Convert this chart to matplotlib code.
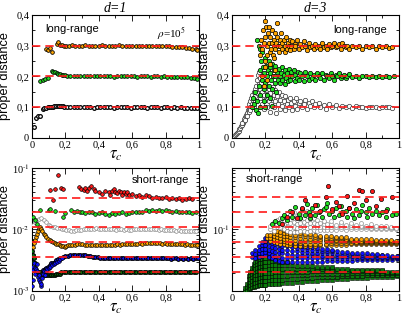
import math
import matplotlib
matplotlib.use('Agg')
import matplotlib.pyplot as plt
from matplotlib.ticker import MultipleLocator, FuncFormatter, LogLocator, NullFormatter

plt.rcParams['mathtext.fontset'] = 'stix'
plt.rcParams['font.family'] = 'Liberation Sans'

# ---- d=1, long-range (tau_c, proper distance) ----
tl_black = [(0.014, 0.037), (0.024, 0.064), (0.034, 0.072), (0.046, 0.07), (0.064, 0.093), (0.074, 0.098),
            (0.084, 0.099), (0.094, 0.1), (0.104, 0.101), (0.114, 0.101), (0.124, 0.102), (0.134, 0.103),
            (0.144, 0.104), (0.154, 0.105), (0.164, 0.105), (0.174, 0.104), (0.184, 0.103), (0.194, 0.102),
            (0.21, 0.102), (0.23, 0.101), (0.25, 0.1), (0.27, 0.101), (0.29, 0.1), (0.31, 0.1), (0.33, 0.101),
            (0.35, 0.1), (0.37, 0.099), (0.39, 0.1), (0.41, 0.1), (0.43, 0.101), (0.45, 0.1), (0.47, 0.1),
            (0.49, 0.099), (0.51, 0.1), (0.53, 0.101), (0.55, 0.1), (0.57, 0.1), (0.59, 0.099), (0.61, 0.1),
            (0.63, 0.1), (0.65, 0.101), (0.67, 0.1), (0.69, 0.099), (0.71, 0.1), (0.73, 0.1), (0.75, 0.1),
            (0.77, 0.099), (0.79, 0.1), (0.81, 0.1), (0.83, 0.099), (0.85, 0.1), (0.87, 0.099), (0.89, 0.1),
            (0.91, 0.099), (0.93, 0.099), (0.95, 0.099), (0.97, 0.098), (0.99, 0.098)]
tl_green = [(0.046, 0.186), (0.066, 0.19), (0.08, 0.193), (0.096, 0.195), (0.118, 0.219), (0.128, 0.216),
            (0.138, 0.213), (0.148, 0.211), (0.158, 0.209), (0.168, 0.207), (0.178, 0.206), (0.188, 0.205),
            (0.198, 0.204), (0.21, 0.203), (0.23, 0.202), (0.25, 0.201), (0.27, 0.2), (0.29, 0.201), (0.31, 0.2),
            (0.33, 0.2), (0.35, 0.201), (0.37, 0.2), (0.39, 0.2), (0.41, 0.2), (0.43, 0.201), (0.45, 0.2),
            (0.47, 0.2), (0.49, 0.199), (0.51, 0.2), (0.53, 0.2), (0.55, 0.201), (0.57, 0.2), (0.59, 0.2),
            (0.61, 0.2), (0.63, 0.199), (0.65, 0.2), (0.67, 0.2), (0.69, 0.2), (0.71, 0.199), (0.73, 0.2),
            (0.75, 0.2), (0.77, 0.199), (0.79, 0.2), (0.81, 0.199), (0.83, 0.199), (0.85, 0.198), (0.87, 0.198),
            (0.89, 0.198), (0.91, 0.197), (0.93, 0.197), (0.95, 0.196), (0.97, 0.195), (0.99, 0.193)]
tl_orange = [(0.086, 0.29), (0.098, 0.287), (0.108, 0.292), (0.12, 0.279), (0.148, 0.305), (0.156, 0.312),
             (0.166, 0.304), (0.178, 0.301), (0.19, 0.3), (0.205, 0.299), (0.22, 0.3), (0.24, 0.301), (0.26, 0.3),
             (0.28, 0.299), (0.30, 0.3), (0.32, 0.301), (0.34, 0.3), (0.36, 0.299), (0.38, 0.3), (0.40, 0.3),
             (0.42, 0.301), (0.44, 0.3), (0.46, 0.299), (0.48, 0.3), (0.50, 0.3), (0.52, 0.301), (0.54, 0.3),
             (0.56, 0.3), (0.58, 0.299), (0.60, 0.3), (0.62, 0.3), (0.64, 0.3), (0.66, 0.299), (0.68, 0.3),
             (0.70, 0.299), (0.72, 0.3), (0.74, 0.299), (0.76, 0.299), (0.78, 0.299), (0.80, 0.298), (0.82, 0.298),
             (0.84, 0.297), (0.86, 0.297), (0.88, 0.296), (0.90, 0.295), (0.92, 0.294), (0.94, 0.292),
             (0.96, 0.29), (0.98, 0.288), (0.99, 0.286)]
tl_levels = [0.1, 0.2, 0.3]

# ---- d=3, long-range ----
tr_white = [(0.02, 0.01), (0.025, 0.013), (0.03, 0.016), (0.035, 0.02), (0.04, 0.024), (0.045, 0.028),
            (0.05, 0.033), (0.055, 0.038), (0.06, 0.043), (0.065, 0.05), (0.07, 0.055), (0.075, 0.062),
            (0.08, 0.068), (0.085, 0.075), (0.09, 0.082), (0.095, 0.09), (0.1, 0.095), (0.06, 0.05), (0.07, 0.062),
            (0.08, 0.06), (0.09, 0.072), (0.1, 0.085), (0.1, 0.11), (0.105, 0.1), (0.11, 0.12), (0.11, 0.09),
            (0.115, 0.13), (0.12, 0.11), (0.12, 0.14), (0.125, 0.125), (0.13, 0.15), (0.13, 0.1), (0.135, 0.135),
            (0.14, 0.16), (0.14, 0.12), (0.145, 0.17), (0.15, 0.145), (0.15, 0.19), (0.155, 0.205), (0.16, 0.215),
            (0.16, 0.175), (0.165, 0.16), (0.17, 0.195), (0.17, 0.13), (0.175, 0.18), (0.18, 0.15), (0.18, 0.11),
            (0.185, 0.165), (0.19, 0.14), (0.19, 0.095), (0.2, 0.17), (0.2, 0.125), (0.205, 0.155), (0.21, 0.1),
            (0.21, 0.14), (0.22, 0.16), (0.22, 0.12), (0.225, 0.085), (0.23, 0.145), (0.235, 0.11), (0.24, 0.13),
            (0.245, 0.165), (0.25, 0.1), (0.25, 0.14), (0.26, 0.12), (0.26, 0.155), (0.265, 0.08), (0.27, 0.135),
            (0.275, 0.11), (0.28, 0.15), (0.285, 0.095), (0.29, 0.125), (0.3, 0.14), (0.3, 0.105), (0.31, 0.12),
            (0.315, 0.09), (0.32, 0.135), (0.33, 0.11), (0.335, 0.125), (0.34, 0.1), (0.35, 0.13), (0.355, 0.115),
            (0.36, 0.09), (0.37, 0.12), (0.38, 0.105), (0.385, 0.13), (0.39, 0.095), (0.4, 0.115), (0.41, 0.12),
            (0.42, 0.1), (0.43, 0.11), (0.44, 0.125), (0.45, 0.095), (0.46, 0.115), (0.47, 0.105), (0.48, 0.12),
            (0.49, 0.1), (0.5, 0.11), (0.52, 0.115), (0.53, 0.1), (0.55, 0.108), (0.56, 0.095), (0.58, 0.112),
            (0.6, 0.1), (0.62, 0.107), (0.64, 0.097), (0.66, 0.105), (0.68, 0.1), (0.7, 0.104), (0.72, 0.098),
            (0.74, 0.103), (0.76, 0.1), (0.78, 0.102), (0.8, 0.099), (0.82, 0.102), (0.84, 0.1), (0.86, 0.101),
            (0.88, 0.099), (0.9, 0.101), (0.92, 0.1), (0.94, 0.1), (0.96, 0.099)]
tr_green = [(0.12, 0.1), (0.125, 0.13), (0.13, 0.11), (0.14, 0.15), (0.145, 0.09), (0.15, 0.32), (0.15, 0.12),
            (0.155, 0.08), (0.16, 0.3), (0.16, 0.17), (0.165, 0.22), (0.17, 0.29), (0.17, 0.14), (0.17, 0.1),
            (0.175, 0.25), (0.18, 0.28), (0.18, 0.19), (0.185, 0.23), (0.19, 0.16), (0.19, 0.21), (0.19, 0.12),
            (0.2, 0.26), (0.2, 0.18), (0.2, 0.1), (0.205, 0.235), (0.21, 0.2), (0.21, 0.14), (0.215, 0.22),
            (0.22, 0.25), (0.22, 0.17), (0.225, 0.21), (0.23, 0.23), (0.23, 0.13), (0.235, 0.19), (0.24, 0.24),
            (0.24, 0.16), (0.24, 0.105), (0.245, 0.2), (0.25, 0.22), (0.255, 0.18), (0.26, 0.235), (0.26, 0.2),
            (0.265, 0.15), (0.27, 0.215), (0.275, 0.19), (0.28, 0.225), (0.285, 0.2), (0.29, 0.18), (0.295, 0.21),
            (0.3, 0.23), (0.3, 0.19), (0.31, 0.205), (0.315, 0.175), (0.32, 0.22), (0.325, 0.195), (0.33, 0.21),
            (0.335, 0.185), (0.34, 0.225), (0.345, 0.2), (0.35, 0.19), (0.355, 0.215), (0.36, 0.2), (0.37, 0.22),
            (0.375, 0.185), (0.38, 0.205), (0.39, 0.195), (0.395, 0.215), (0.4, 0.19), (0.41, 0.21), (0.42, 0.2),
            (0.43, 0.185), (0.44, 0.215), (0.45, 0.2), (0.46, 0.19), (0.47, 0.21), (0.48, 0.195), (0.49, 0.205),
            (0.5, 0.19), (0.51, 0.21), (0.52, 0.2), (0.53, 0.195), (0.54, 0.21), (0.55, 0.19), (0.56, 0.205),
            (0.57, 0.2), (0.58, 0.195), (0.59, 0.21), (0.6, 0.2), (0.61, 0.19), (0.62, 0.205), (0.63, 0.2),
            (0.64, 0.21), (0.65, 0.195), (0.66, 0.2), (0.67, 0.205), (0.68, 0.195), (0.69, 0.2), (0.7, 0.207),
            (0.72, 0.198), (0.74, 0.203), (0.76, 0.196), (0.78, 0.202), (0.8, 0.2), (0.82, 0.197), (0.84, 0.203),
            (0.86, 0.199), (0.88, 0.201), (0.9, 0.198), (0.92, 0.2), (0.94, 0.199), (0.97, 0.2)]
tr_orange = [(0.17, 0.27), (0.175, 0.32), (0.18, 0.29), (0.185, 0.35), (0.19, 0.31), (0.195, 0.25), (0.2, 0.38),
             (0.2, 0.33), (0.205, 0.36), (0.21, 0.3), (0.21, 0.27), (0.215, 0.34), (0.22, 0.36), (0.22, 0.31),
             (0.225, 0.28), (0.23, 0.33), (0.235, 0.29), (0.24, 0.35), (0.24, 0.31), (0.245, 0.27), (0.25, 0.32),
             (0.25, 0.3), (0.255, 0.34), (0.26, 0.29), (0.265, 0.31), (0.27, 0.375), (0.27, 0.33), (0.275, 0.3),
             (0.28, 0.28), (0.285, 0.32), (0.29, 0.3), (0.295, 0.34), (0.3, 0.31), (0.3, 0.29), (0.31, 0.32),
             (0.315, 0.28), (0.32, 0.3), (0.325, 0.33), (0.33, 0.29), (0.335, 0.31), (0.34, 0.3), (0.345, 0.32),
             (0.35, 0.285), (0.355, 0.3), (0.36, 0.315), (0.37, 0.29), (0.375, 0.305), (0.38, 0.3), (0.39, 0.32),
             (0.4, 0.29), (0.41, 0.305), (0.42, 0.295), (0.43, 0.315), (0.44, 0.3), (0.45, 0.285), (0.46, 0.31),
             (0.47, 0.295), (0.48, 0.3), (0.49, 0.29), (0.5, 0.305), (0.51, 0.295), (0.52, 0.3), (0.53, 0.29),
             (0.54, 0.31), (0.55, 0.295), (0.56, 0.3), (0.57, 0.29), (0.58, 0.305), (0.59, 0.295), (0.6, 0.3),
             (0.61, 0.31), (0.62, 0.295), (0.63, 0.3), (0.64, 0.305), (0.65, 0.29), (0.66, 0.31), (0.67, 0.3),
             (0.68, 0.295), (0.69, 0.3), (0.7, 0.29), (0.72, 0.3), (0.74, 0.295), (0.76, 0.3), (0.78, 0.29),
             (0.8, 0.3), (0.82, 0.295), (0.84, 0.3), (0.86, 0.29), (0.88, 0.298), (0.9, 0.295), (0.92, 0.3),
             (0.94, 0.293), (0.96, 0.296), (0.18, 0.2), (0.19, 0.17), (0.2, 0.23), (0.21, 0.19), (0.23, 0.24),
             (0.25, 0.26), (0.26, 0.22)]
tr_levels = [0.1, 0.2, 0.3]

# ---- d=1, short-range (log axis) ----
bl_red = [(0.106, 0.0435), (0.126, 0.0306), (0.136, 0.046), (0.156, 0.078), (0.176, 0.048), (0.186, 0.045),
          (0.28, 0.049), (0.296, 0.046), (0.31, 0.044), (0.316, 0.047), (0.33, 0.043), (0.34, 0.048),
          (0.356, 0.051), (0.37, 0.045), (0.38, 0.042), (0.40, 0.041), (0.42, 0.038), (0.44, 0.042), (0.46, 0.04),
          (0.47, 0.037), (0.48, 0.043), (0.49, 0.045), (0.50, 0.041), (0.51, 0.039), (0.52, 0.043), (0.53, 0.04),
          (0.54, 0.037), (0.55, 0.041), (0.56, 0.038), (0.57, 0.04), (0.58, 0.036), (0.6, 0.038), (0.62, 0.035),
          (0.64, 0.037), (0.66, 0.034), (0.68, 0.036), (0.7, 0.035), (0.72, 0.033), (0.74, 0.034), (0.76, 0.033),
          (0.78, 0.032), (0.8, 0.034), (0.82, 0.031), (0.84, 0.032), (0.86, 0.031), (0.88, 0.032), (0.9, 0.03),
          (0.92, 0.031), (0.94, 0.032), (0.96, 0.031)]
bl_green = [(0.006, 0.016), (0.02, 0.014), (0.03, 0.0125), (0.046, 0.0206), (0.1, 0.0205), (0.106, 0.0212),
            (0.136, 0.0198), (0.186, 0.016), (0.2, 0.0185), (0.236, 0.0206), (0.25, 0.019), (0.27, 0.02),
            (0.286, 0.0194), (0.3, 0.019), (0.32, 0.0185), (0.34, 0.019), (0.36, 0.0195), (0.38, 0.018),
            (0.40, 0.0185), (0.42, 0.019), (0.44, 0.018), (0.46, 0.0175), (0.48, 0.0185), (0.5, 0.018),
            (0.52, 0.0185), (0.54, 0.019), (0.56, 0.018), (0.58, 0.0185), (0.6, 0.019), (0.62, 0.0195),
            (0.64, 0.019), (0.66, 0.0195), (0.68, 0.0205), (0.70, 0.02), (0.72, 0.021), (0.74, 0.02),
            (0.76, 0.0205), (0.78, 0.02), (0.8, 0.0205), (0.82, 0.02), (0.84, 0.0195), (0.86, 0.02),
            (0.88, 0.0195), (0.9, 0.019), (0.92, 0.0195), (0.94, 0.019), (0.96, 0.0185), (0.98, 0.019)]
bl_white = [(0.006, 0.0117), (0.016, 0.013), (0.026, 0.0142), (0.04, 0.015), (0.056, 0.0155), (0.07, 0.0145),
            (0.086, 0.0133), (0.1, 0.012), (0.11, 0.0115), (0.126, 0.011), (0.14, 0.0108), (0.15, 0.0107),
            (0.166, 0.0106), (0.18, 0.0102), (0.19, 0.01), (0.206, 0.0098), (0.22, 0.0097), (0.235, 0.0095),
            (0.25, 0.0096), (0.265, 0.0098), (0.28, 0.0097), (0.295, 0.0099), (0.31, 0.01), (0.325, 0.0102),
            (0.34, 0.0101), (0.355, 0.0103), (0.37, 0.0102), (0.385, 0.0104), (0.4, 0.0102), (0.415, 0.0101),
            (0.43, 0.0103), (0.445, 0.0101), (0.46, 0.0102), (0.475, 0.01), (0.49, 0.0101), (0.505, 0.0099),
            (0.52, 0.01), (0.535, 0.0101), (0.55, 0.0099), (0.565, 0.01), (0.58, 0.0098), (0.595, 0.0099),
            (0.61, 0.0101), (0.625, 0.01), (0.64, 0.0102), (0.655, 0.0101), (0.67, 0.0103), (0.685, 0.0102),
            (0.7, 0.0101), (0.715, 0.01), (0.73, 0.0102), (0.745, 0.0101), (0.76, 0.0099), (0.775, 0.01),
            (0.79, 0.0098), (0.805, 0.0099), (0.82, 0.0097), (0.835, 0.0098), (0.85, 0.0097), (0.865, 0.0096),
            (0.88, 0.0097), (0.895, 0.0095), (0.91, 0.0096), (0.925, 0.0094), (0.94, 0.0095), (0.955, 0.0094),
            (0.97, 0.0093), (0.985, 0.0094)]
bl_orange = [(0.004, 0.0052), (0.01, 0.006), (0.016, 0.0067), (0.022, 0.0076), (0.028, 0.0085), (0.034, 0.0095),
             (0.042, 0.0105), (0.05, 0.011), (0.056, 0.0103), (0.062, 0.0094), (0.07, 0.0086), (0.076, 0.0081),
             (0.086, 0.0076), (0.096, 0.0071), (0.106, 0.0068), (0.116, 0.0065), (0.126, 0.0062), (0.136, 0.006),
             (0.146, 0.0058), (0.156, 0.0057), (0.166, 0.0056), (0.176, 0.0054), (0.186, 0.0053), (0.196, 0.0052),
             (0.206, 0.0053), (0.216, 0.0055), (0.226, 0.0056), (0.24, 0.0055), (0.255, 0.0056), (0.27, 0.0058),
             (0.286, 0.0059), (0.3, 0.0057), (0.315, 0.0056), (0.33, 0.0055), (0.345, 0.0056), (0.36, 0.0055),
             (0.375, 0.0056), (0.39, 0.0055), (0.405, 0.0056), (0.42, 0.0055), (0.435, 0.0056), (0.45, 0.0055),
             (0.465, 0.0056), (0.48, 0.0055), (0.495, 0.0056), (0.51, 0.0057), (0.525, 0.0056), (0.54, 0.0057),
             (0.555, 0.0058), (0.57, 0.0057), (0.585, 0.0058), (0.6, 0.0059), (0.615, 0.0058), (0.63, 0.0059),
             (0.645, 0.006), (0.66, 0.0059), (0.675, 0.006), (0.69, 0.0061), (0.705, 0.006), (0.72, 0.0061),
             (0.735, 0.006), (0.75, 0.0061), (0.765, 0.006), (0.78, 0.0059), (0.795, 0.006), (0.81, 0.0059),
             (0.825, 0.0058), (0.84, 0.0059), (0.855, 0.0058), (0.87, 0.0057), (0.885, 0.0058), (0.9, 0.0057),
             (0.915, 0.0056), (0.93, 0.0057), (0.945, 0.0056), (0.96, 0.0055), (0.975, 0.0056), (0.99, 0.0055)]
bl_blue = [(0.002, 0.0012), (0.003, 0.0025), (0.006, 0.0015), (0.008, 0.0022), (0.012, 0.0028), (0.016, 0.0024),
           (0.02, 0.0019), (0.024, 0.0023), (0.028, 0.0027), (0.032, 0.0021), (0.036, 0.0017), (0.04, 0.0015),
           (0.044, 0.0018), (0.048, 0.0014), (0.052, 0.0012), (0.056, 0.0013), (0.06, 0.0016), (0.066, 0.0019),
           (0.072, 0.0021), (0.078, 0.0018), (0.084, 0.0021), (0.09, 0.0023), (0.1, 0.0024), (0.11, 0.0025),
           (0.12, 0.0026), (0.13, 0.0027), (0.14, 0.0028), (0.15, 0.003), (0.16, 0.0031), (0.17, 0.0033),
           (0.18, 0.0035)]
bl_black = [(0.066, 0.0022), (0.076, 0.0023), (0.086, 0.0024), (0.096, 0.0025), (0.106, 0.0026), (0.116, 0.0028),
            (0.126, 0.0029), (0.136, 0.003), (0.146, 0.0032), (0.156, 0.0033), (0.166, 0.0034), (0.176, 0.0035),
            (0.186, 0.0036), (0.2, 0.0037), (0.215, 0.0037), (0.23, 0.0038), (0.245, 0.0038), (0.26, 0.0038),
            (0.275, 0.0039), (0.29, 0.0038), (0.305, 0.0038), (0.32, 0.0038), (0.335, 0.0037), (0.35, 0.0037),
            (0.365, 0.0036), (0.38, 0.0036), (0.395, 0.0036), (0.41, 0.0035), (0.425, 0.0035), (0.44, 0.0035),
            (0.455, 0.0034), (0.47, 0.0035), (0.485, 0.0034), (0.5, 0.0034), (0.515, 0.0035), (0.53, 0.0034),
            (0.545, 0.0034), (0.56, 0.0035), (0.575, 0.0034), (0.59, 0.0034), (0.605, 0.0035), (0.62, 0.0035),
            (0.635, 0.0034), (0.65, 0.0035), (0.665, 0.0035), (0.68, 0.0034), (0.695, 0.0035), (0.71, 0.0035),
            (0.725, 0.0034), (0.74, 0.0034), (0.755, 0.0035), (0.77, 0.0034), (0.785, 0.0034), (0.8, 0.0034),
            (0.815, 0.0034), (0.83, 0.0033), (0.845, 0.0034), (0.86, 0.0034), (0.875, 0.0033), (0.89, 0.0034),
            (0.905, 0.0033), (0.92, 0.0034), (0.935, 0.0033), (0.95, 0.0034), (0.965, 0.0033), (0.98, 0.0034),
            (0.995, 0.0034)]
bl_dkgreen = [(0.002, 0.0045), (0.004, 0.0038), (0.006, 0.0063), (0.008, 0.003), (0.012, 0.0035),
              (0.016, 0.0028), (0.02, 0.0024), (0.026, 0.0021), (0.036, 0.002), (0.046, 0.002), (0.056, 0.0019),
              (0.066, 0.0018), (0.076, 0.0018), (0.086, 0.0018), (0.096, 0.0018), (0.106, 0.0018),
              (0.116, 0.0018), (0.126, 0.0018), (0.136, 0.0018), (0.146, 0.0019), (0.156, 0.0019),
              (0.166, 0.0019), (0.176, 0.002), (0.19, 0.002), (0.205, 0.002), (0.22, 0.002), (0.235, 0.002),
              (0.25, 0.002), (0.265, 0.002), (0.28, 0.002), (0.295, 0.002), (0.31, 0.002), (0.325, 0.002),
              (0.34, 0.002), (0.355, 0.002), (0.37, 0.002), (0.385, 0.002), (0.4, 0.002), (0.415, 0.002),
              (0.43, 0.002), (0.445, 0.002), (0.46, 0.002), (0.475, 0.002), (0.49, 0.002), (0.505, 0.002),
              (0.52, 0.002), (0.535, 0.002), (0.55, 0.002), (0.565, 0.002), (0.58, 0.002), (0.595, 0.002),
              (0.61, 0.002), (0.625, 0.002), (0.64, 0.002), (0.655, 0.002), (0.67, 0.002), (0.685, 0.002),
              (0.7, 0.002), (0.715, 0.002), (0.73, 0.002), (0.745, 0.002), (0.76, 0.002), (0.775, 0.002),
              (0.79, 0.002), (0.805, 0.002), (0.82, 0.002), (0.835, 0.002), (0.85, 0.002), (0.865, 0.002),
              (0.88, 0.002), (0.895, 0.002), (0.91, 0.002), (0.925, 0.002), (0.94, 0.002), (0.955, 0.002),
              (0.97, 0.002), (0.985, 0.002)]
bl_levels = [0.00201, 0.00352, 0.00616, 0.0108, 0.0189, 0.033]

# ---- d=3, short-range (log axis); columns: tau_c -> proper distances ----
br_dkgreen = {0.08: [0.0102, 0.0112], 0.09: [0.0105, 0.0118, 0.0132],
              0.10: [0.0108, 0.0122, 0.0138, 0.0158, 0.0178],
              0.11: [0.0112, 0.0126, 0.0142, 0.016, 0.0182, 0.0205],
              0.12: [0.0115, 0.013, 0.0148, 0.0168, 0.019, 0.0215, 0.024],
              0.13: [0.0118, 0.0135, 0.0152, 0.0172, 0.0195, 0.022, 0.025, 0.028],
              0.14: [0.012, 0.0138, 0.0158, 0.018, 0.0205, 0.0232, 0.0262, 0.03],
              0.15: [0.0122, 0.014, 0.016, 0.0182, 0.021, 0.024, 0.0272, 0.031, 0.035],
              0.16: [0.0124, 0.0143, 0.0163, 0.0186, 0.0212, 0.0242, 0.0278, 0.032, 0.037, 0.041],
              0.17: [0.0125, 0.0145, 0.0166, 0.019, 0.0218, 0.025, 0.0285, 0.033, 0.038, 0.044],
              0.18: [0.0126, 0.0146, 0.0168, 0.0193, 0.022, 0.0252, 0.029, 0.0335, 0.039, 0.046, 0.052],
              0.19: [0.0127, 0.0148, 0.017, 0.0195, 0.0224, 0.0258, 0.0296, 0.034, 0.04, 0.047, 0.056],
              0.20: [0.0128, 0.0148, 0.017, 0.0196, 0.0226, 0.026, 0.03, 0.035, 0.041, 0.049, 0.058],
              0.22: [0.013, 0.015, 0.0172, 0.0198, 0.0228, 0.0262, 0.0302, 0.035, 0.041],
              0.24: [0.0131, 0.0151, 0.0174, 0.02, 0.023, 0.0264, 0.0305, 0.035],
              0.26: [0.0132, 0.0152, 0.0175, 0.0201, 0.0232, 0.0266, 0.0305, 0.034],
              0.28: [0.0133, 0.0153, 0.0176, 0.0202, 0.0232, 0.0266, 0.03],
              0.30: [0.0134, 0.0154, 0.0177, 0.0203, 0.0233, 0.0266, 0.0298],
              0.33: [0.0136, 0.0156, 0.0178, 0.0204, 0.0233, 0.0264, 0.0295],
              0.36: [0.0138, 0.0158, 0.018, 0.0205, 0.0233, 0.0262],
              0.39: [0.014, 0.016, 0.0182, 0.0206, 0.0232, 0.026],
              0.42: [0.0142, 0.0162, 0.0184, 0.0207, 0.0232, 0.0258],
              0.45: [0.0144, 0.0164, 0.0185, 0.0208, 0.0232, 0.0255],
              0.48: [0.0146, 0.0166, 0.0187, 0.0209, 0.0232, 0.0252],
              0.51: [0.0148, 0.0168, 0.0188, 0.021, 0.0231, 0.025],
              0.54: [0.015, 0.017, 0.019, 0.021, 0.023, 0.0248],
              0.57: [0.0152, 0.0171, 0.019, 0.0211, 0.0229, 0.0245],
              0.60: [0.0154, 0.0172, 0.0191, 0.0211, 0.0228, 0.0243],
              0.63: [0.0156, 0.0173, 0.0192, 0.0211, 0.0227],
              0.66: [0.0158, 0.0175, 0.0193, 0.0211, 0.0226],
              0.69: [0.016, 0.0176, 0.0193, 0.021, 0.0225],
              0.72: [0.0161, 0.0177, 0.0194, 0.021, 0.0224],
              0.75: [0.0163, 0.0178, 0.0194, 0.021, 0.0223],
              0.78: [0.0164, 0.0179, 0.0195, 0.021, 0.0222],
              0.81: [0.0166, 0.018, 0.0195, 0.0209, 0.0221],
              0.84: [0.0167, 0.0181, 0.0195, 0.0209, 0.022],
              0.87: [0.0168, 0.0182, 0.0196, 0.0209, 0.022],
              0.90: [0.017, 0.0183, 0.0196, 0.0209, 0.0219],
              0.93: [0.0171, 0.0184, 0.0196, 0.0208],
              0.96: [0.0172, 0.0185, 0.0197, 0.0208],
              0.99: [0.0174, 0.0186, 0.0197, 0.0207]}
br_blue = {0.12: [0.036, 0.041], 0.14: [0.035, 0.04, 0.046], 0.16: [0.036, 0.041, 0.047, 0.054],
           0.18: [0.037, 0.042, 0.048, 0.055, 0.063], 0.20: [0.038, 0.043, 0.049, 0.056, 0.064, 0.072],
           0.22: [0.036, 0.041, 0.047, 0.054, 0.062, 0.07, 0.077],
           0.24: [0.034, 0.039, 0.045, 0.052, 0.06, 0.068, 0.075],
           0.26: [0.032, 0.037, 0.043, 0.05, 0.058, 0.066, 0.072],
           0.28: [0.031, 0.036, 0.042, 0.049, 0.056, 0.064, 0.07],
           0.30: [0.03, 0.035, 0.041, 0.047, 0.054, 0.062], 0.33: [0.03, 0.035, 0.04, 0.046, 0.053, 0.06],
           0.36: [0.03, 0.034, 0.039, 0.045, 0.052, 0.058], 0.39: [0.03, 0.034, 0.039, 0.044, 0.05, 0.056],
           0.42: [0.03, 0.034, 0.038, 0.043, 0.049, 0.054], 0.45: [0.03, 0.034, 0.038, 0.043, 0.048, 0.052],
           0.48: [0.03, 0.034, 0.038, 0.042, 0.047, 0.051], 0.51: [0.03, 0.034, 0.038, 0.042, 0.046, 0.05],
           0.54: [0.03, 0.034, 0.037, 0.041, 0.045, 0.049], 0.57: [0.031, 0.034, 0.037, 0.041, 0.045, 0.048],
           0.60: [0.031, 0.034, 0.037, 0.041, 0.044, 0.047], 0.63: [0.031, 0.034, 0.037, 0.04, 0.044],
           0.66: [0.031, 0.034, 0.037, 0.04, 0.043], 0.69: [0.031, 0.034, 0.037, 0.04, 0.043],
           0.72: [0.031, 0.034, 0.037, 0.04, 0.042], 0.75: [0.032, 0.034, 0.037, 0.039, 0.042],
           0.78: [0.032, 0.034, 0.036, 0.039, 0.041], 0.81: [0.032, 0.034, 0.036, 0.039, 0.041],
           0.84: [0.032, 0.034, 0.036, 0.038, 0.04], 0.87: [0.032, 0.034, 0.036, 0.038, 0.04],
           0.90: [0.032, 0.034, 0.036, 0.038, 0.039], 0.93: [0.032, 0.034, 0.036, 0.038],
           0.96: [0.032, 0.034, 0.036, 0.037], 0.99: [0.033, 0.034, 0.036, 0.037]}
br_orange = {0.21: [0.072, 0.08], 0.23: [0.065, 0.073, 0.082], 0.25: [0.062, 0.07, 0.079, 0.088],
             0.27: [0.06, 0.067, 0.075, 0.084, 0.093], 0.29: [0.058, 0.065, 0.072, 0.08, 0.09],
             0.31: [0.057, 0.064, 0.071, 0.079, 0.088, 0.097], 0.33: [0.056, 0.062, 0.069, 0.077, 0.086, 0.095],
             0.35: [0.055, 0.061, 0.068, 0.076, 0.085], 0.38: [0.054, 0.06, 0.067, 0.074, 0.082, 0.09],
             0.41: [0.054, 0.06, 0.066, 0.073, 0.08, 0.088], 0.44: [0.054, 0.059, 0.065, 0.071, 0.078, 0.085],
             0.47: [0.054, 0.059, 0.064, 0.07, 0.077, 0.083], 0.50: [0.054, 0.059, 0.064, 0.069, 0.075, 0.081],
             0.53: [0.055, 0.059, 0.064, 0.069, 0.074, 0.079], 0.56: [0.055, 0.059, 0.064, 0.068, 0.073, 0.078],
             0.59: [0.055, 0.06, 0.064, 0.068, 0.073, 0.077], 0.62: [0.056, 0.06, 0.064, 0.068, 0.072, 0.076],
             0.65: [0.056, 0.06, 0.064, 0.068, 0.072, 0.075], 0.68: [0.056, 0.06, 0.064, 0.067, 0.071, 0.074],
             0.71: [0.057, 0.06, 0.064, 0.067, 0.071], 0.74: [0.057, 0.06, 0.063, 0.067, 0.07],
             0.77: [0.057, 0.06, 0.063, 0.066, 0.07], 0.80: [0.057, 0.06, 0.063, 0.066, 0.069],
             0.83: [0.058, 0.061, 0.063, 0.066, 0.069], 0.86: [0.058, 0.061, 0.063, 0.066, 0.068],
             0.89: [0.058, 0.061, 0.063, 0.065, 0.068], 0.92: [0.058, 0.061, 0.063, 0.065, 0.067],
             0.95: [0.059, 0.061, 0.063, 0.065, 0.067], 0.98: [0.059, 0.061, 0.063, 0.065]}
br_white = {0.23: [0.1, 0.115], 0.25: [0.095, 0.11, 0.13], 0.27: [0.12, 0.14], 0.29: [0.11, 0.13, 0.155],
            0.31: [0.1, 0.12, 0.14, 0.165], 0.33: [0.095, 0.11, 0.13, 0.15, 0.18],
            0.35: [0.09, 0.105, 0.125, 0.145, 0.17], 0.37: [0.092, 0.11, 0.13, 0.155, 0.19],
            0.39: [0.09, 0.105, 0.12, 0.14, 0.165], 0.41: [0.093, 0.108, 0.125, 0.15, 0.18],
            0.43: [0.095, 0.11, 0.13, 0.155], 0.45: [0.092, 0.105, 0.12, 0.14, 0.2],
            0.47: [0.095, 0.11, 0.125, 0.145], 0.49: [0.097, 0.11, 0.125, 0.15],
            0.51: [0.095, 0.108, 0.122, 0.14], 0.53: [0.097, 0.11, 0.125], 0.55: [0.098, 0.11, 0.122, 0.138],
            0.57: [0.097, 0.108, 0.12], 0.59: [0.099, 0.11, 0.122, 0.135], 0.62: [0.098, 0.108, 0.118],
            0.65: [0.1, 0.11, 0.12, 0.13], 0.68: [0.099, 0.108, 0.118], 0.71: [0.1, 0.109, 0.118, 0.128],
            0.74: [0.1, 0.108, 0.116], 0.77: [0.1, 0.108, 0.115, 0.125], 0.80: [0.101, 0.108, 0.115],
            0.83: [0.1, 0.107, 0.114, 0.122], 0.86: [0.101, 0.107, 0.113], 0.89: [0.1, 0.106, 0.112],
            0.92: [0.101, 0.106, 0.112], 0.95: [0.1, 0.105, 0.11], 0.98: [0.101, 0.105]}
br_green = [(0.24, 0.12), (0.26, 0.135), (0.28, 0.125), (0.3, 0.15), (0.31, 0.17), (0.33, 0.14), (0.35, 0.2),
            (0.36, 0.16), (0.38, 0.23), (0.4, 0.18), (0.41, 0.15), (0.42, 0.21), (0.44, 0.17), (0.45, 0.26),
            (0.46, 0.19), (0.47, 0.15), (0.48, 0.22), (0.5, 0.17), (0.51, 0.25), (0.52, 0.19), (0.54, 0.16),
            (0.55, 0.21), (0.56, 0.23), (0.57, 0.27), (0.58, 0.18), (0.6, 0.2), (0.61, 0.16), (0.62, 0.22),
            (0.64, 0.17), (0.65, 0.24), (0.66, 0.19), (0.68, 0.2), (0.69, 0.16), (0.7, 0.22), (0.72, 0.18),
            (0.73, 0.15), (0.74, 0.21), (0.76, 0.17), (0.77, 0.2), (0.78, 0.25), (0.8, 0.19), (0.81, 0.16),
            (0.82, 0.22), (0.84, 0.18), (0.86, 0.2), (0.88, 0.17), (0.9, 0.19), (0.92, 0.16), (0.93, 0.21),
            (0.96, 0.17), (0.98, 0.18)]
br_red = [(0.3, 0.12), (0.33, 0.16), (0.36, 0.19), (0.39, 0.15), (0.42, 0.22), (0.44, 0.3), (0.47, 0.17),
          (0.5, 0.25), (0.53, 0.2), (0.56, 0.33), (0.575, 0.5), (0.6, 0.21), (0.62, 0.28), (0.64, 0.24),
          (0.66, 0.18), (0.69, 0.35), (0.7, 0.22), (0.73, 0.27), (0.76, 0.44), (0.78, 0.41), (0.8, 0.3),
          (0.84, 0.42), (0.86, 0.24), (0.89, 0.31), (0.92, 0.2), (0.96, 0.33)]
br_levels = [0.0201, 0.0352, 0.0616, 0.108, 0.189, 0.33]

RED = '#ff1a1a'
GREEN = '#22e022'
ORANGE = '#ffa500'
BLUE = '#1010ff'
DKGREEN = '#0a7a0a'


def pts(pairs):
    return [p[0] for p in pairs], [p[1] for p in pairs]


def cols(d):
    xs, ys = [], []
    for x, yl in d.items():
        xs += [x] * len(yl)
        ys += yl
    return xs, ys


def dots(ax, xy, fc, ec='black', s=7, marker='o', lw=0.5):
    ax.scatter(xy[0], xy[1], s=s, marker=marker, facecolor=fc, edgecolor=ec, linewidths=lw, zorder=3)


def hlines(ax, levels):
    for v in levels:
        ax.axhline(v, color=RED, lw=1.2, dashes=(5, 3), zorder=5)


def comma(v, pos):
    return ('%g' % v).replace('.', ',')


def power(v, pos):
    # short hyphen in the exponent keeps the label narrow, as in the original
    return r'10$^{\text{-}%d}$' % abs(round(math.log10(v)))


def style(ax, label_x, logy=False):
    ax.set_xlim(0, 1)
    ax.xaxis.set_major_locator(MultipleLocator(0.2))
    ax.xaxis.set_minor_locator(MultipleLocator(0.1))
    ax.xaxis.set_major_formatter(FuncFormatter(comma))
    if logy:
        ax.set_yscale('log')
        ax.yaxis.set_major_locator(LogLocator(base=10))
        ax.yaxis.set_minor_locator(LogLocator(base=10, subs=range(2, 10)))
        ax.yaxis.set_minor_formatter(NullFormatter())
        ax.yaxis.set_major_formatter(FuncFormatter(power))
    else:
        ax.set_ylim(0, 0.4)
        ax.yaxis.set_major_locator(MultipleLocator(0.1))
        ax.yaxis.set_minor_locator(MultipleLocator(0.05))
        ax.yaxis.set_major_formatter(FuncFormatter(comma))
    ax.tick_params(which='both', direction='in', top=True, right=True, width=0.6,
                   labelsize=7.5, labelfontfamily='Liberation Serif', pad=2)
    ax.tick_params(which='major', length=4)
    ax.tick_params(which='minor', length=2)
    if logy:
        ax.tick_params(axis='y', pad=1.5)
    for sp in ax.spines.values():
        sp.set_linewidth(0.8)
    ax.set_ylabel('proper distance', fontsize=9.2)
    ax.yaxis.set_label_coords(label_x, 0.5)
    ax.set_xlabel(r'$\tau_c$', fontsize=12, labelpad=-1)


fig = plt.figure(figsize=(4.15, 3.21), dpi=100)
ax_tl = fig.add_axes([0.0771, 0.5701, 0.4024, 0.3832])
ax_tr = fig.add_axes([0.559, 0.5701, 0.4024, 0.3832])
ax_bl = fig.add_axes([0.0771, 0.0935, 0.4024, 0.3832])
ax_br = fig.add_axes([0.559, 0.0935, 0.4024, 0.3832])

# d=1 long-range
dots(ax_tl, pts(tl_black), 'white', lw=0.9)
dots(ax_tl, pts(tl_green), GREEN, lw=0.6)
dots(ax_tl, pts(tl_orange), ORANGE, lw=0.6)
hlines(ax_tl, tl_levels)
style(ax_tl, -0.128)
ax_tl.set_title('d=1', fontsize=10, fontstyle='italic', family='Liberation Serif', pad=2)
ax_tl.text(0.08, 0.885, 'long-range', transform=ax_tl.transAxes, fontsize=8, va='center')
ax_tl.text(0.75, 0.85, r'$\rho$=10$^5$', transform=ax_tl.transAxes, fontsize=8,
           family='Liberation Serif', va='center')

# d=3 long-range
dots(ax_tr, pts(tr_white), 'white', ec='#333333', s=10)
dots(ax_tr, pts(tr_green), GREEN, s=10)
dots(ax_tr, pts(tr_orange), ORANGE, s=10)
hlines(ax_tr, tr_levels)
style(ax_tr, -0.125)
ax_tr.set_title('d=3', fontsize=10, fontstyle='italic', family='Liberation Serif', pad=2)
ax_tr.text(0.605, 0.878, 'long-range', transform=ax_tr.transAxes, fontsize=8, va='center')

# d=1 short-range
dots(ax_bl, pts(bl_dkgreen), DKGREEN, lw=0.8)
dots(ax_bl, pts(bl_black), BLUE, lw=0.8)
dots(ax_bl, pts(bl_blue), BLUE)
dots(ax_bl, pts(bl_orange), ORANGE)
dots(ax_bl, pts(bl_white), 'white', ec='#888888')
dots(ax_bl, pts(bl_green), GREEN)
dots(ax_bl, pts(bl_red), RED)
hlines(ax_bl, bl_levels)
style(ax_bl, -0.128, logy=True)
ax_bl.set_ylim(1e-3, 1e-1)
ax_bl.text(0.6, 0.9, 'short-range', transform=ax_bl.transAxes, fontsize=8, va='center')

# d=3 short-range
dots(ax_br, cols(br_dkgreen), DKGREEN, marker='s', s=7, lw=0.4)
dots(ax_br, cols(br_blue), BLUE, s=8, lw=0.4)
dots(ax_br, cols(br_orange), ORANGE, s=8, lw=0.4)
dots(ax_br, cols(br_white), 'white', ec='#777777', s=8, lw=0.4)
dots(ax_br, pts(br_green), GREEN, s=9)
dots(ax_br, pts(br_red), RED, s=9)
hlines(ax_br, br_levels)
style(ax_br, -0.125, logy=True)
ax_br.set_ylim(0.0101, 0.98)
ax_br.text(0.084, 0.91, 'short-range', transform=ax_br.transAxes, fontsize=8, va='center')

fig.savefig('out.png', dpi=100)
